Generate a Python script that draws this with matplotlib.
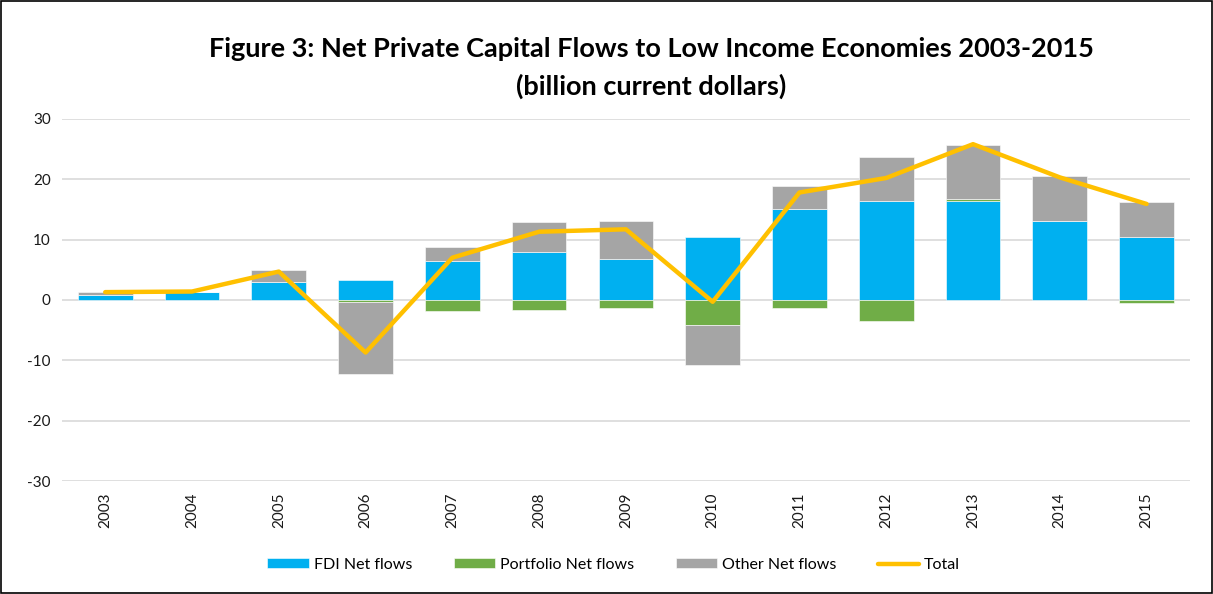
import matplotlib.pyplot as plt
import numpy as np
from matplotlib.patches import Rectangle

plt.rcParams['font.family'] = ['Lato', 'DejaVu Sans']
plt.rcParams['axes.unicode_minus'] = False

years = ['2003', '2004', '2005', '2006', '2007', '2008', '2009', '2010',
         '2011', '2012', '2013', '2014', '2015']
fdi = [0.9, 1.4, 2.9, 3.3, 6.5, 7.9, 6.8, 10.4, 15.0, 16.4, 16.4, 13.0, 10.4]
portfolio = [0.0, 0.0, 0.0, -0.4, -1.9, -1.7, -1.3, -4.1, -1.3, -3.5, 0.4, 0.0, -0.5]
other = [0.4, 0.0, 2.0, -11.8, 2.3, 5.0, 6.2, -6.6, 3.9, 7.3, 8.9, 7.5, 5.9]
total = [1.3, 1.4, 4.7, -8.7, 7.0, 11.3, 11.7, -0.3, 17.8, 20.2, 25.8, 20.3, 15.9]

C_FDI = '#00B0F0'
C_PORT = '#70AD47'
C_OTHER = '#A5A5A5'
C_TOTAL = '#FFC000'

fig = plt.figure(figsize=(12.13, 5.94), dpi=100)
ax = fig.add_axes([0.051, 0.19, 0.93, 0.61])

x = np.arange(len(years))
w = 0.63

# Excel-style stacking: positives upward, negatives downward
pos_base = np.zeros(len(years))
neg_base = np.zeros(len(years))
for vals, col, lab in [(fdi, C_FDI, 'FDI Net flows'),
                       (portfolio, C_PORT, 'Portfolio Net flows'),
                       (other, C_OTHER, 'Other Net flows')]:
    v = np.array(vals)
    bottoms = np.where(v >= 0, pos_base, neg_base)
    ax.bar(x, v, w, bottom=bottoms, color=col, edgecolor='white',
           linewidth=0.4, label=lab, zorder=3)
    pos_base += np.where(v >= 0, v, 0)
    neg_base += np.where(v < 0, v, 0)

ax.plot(x, total, color=C_TOTAL, linewidth=3.2, solid_capstyle='round',
        label='Total', zorder=5)

ax.set_xlim(-0.5, len(years) - 0.5)
ax.set_ylim(-30, 30)
ax.set_yticks(range(-30, 31, 10))
ax.set_xticks(x)
ax.set_xticklabels(years, rotation=90)
ax.tick_params(length=0, labelsize=11, colors='#1a1a1a', pad=8)
ax.grid(axis='y', color='#D9D9D9', linewidth=1.2, zorder=0)
for s in ax.spines.values():
    s.set_visible(False)

fig.text(0.537, 0.918, 'Figure 3: Net Private Capital Flows to Low Income Economies 2003-2015',
         ha='center', va='center', fontsize=19.5, fontweight='bold')
fig.text(0.537, 0.855, '(billion current dollars)',
         ha='center', va='center', fontsize=19.5, fontweight='bold')

handles, labels = ax.get_legend_handles_labels()
order = [1, 2, 3, 0]
fig.legend([handles[i] for i in order], [labels[i] for i in order],
           loc='center', bbox_to_anchor=(0.506, 0.049), ncol=4, frameon=False,
           fontsize=11.5, handlelength=2.6, handleheight=0.6, columnspacing=2.6,
           handletextpad=0.3)

fig.patches.append(Rectangle((0.001, 0.001), 0.998, 0.998, transform=fig.transFigure,
                             fill=False, edgecolor='black', linewidth=1.2))

plt.savefig('out.png', dpi=100)
